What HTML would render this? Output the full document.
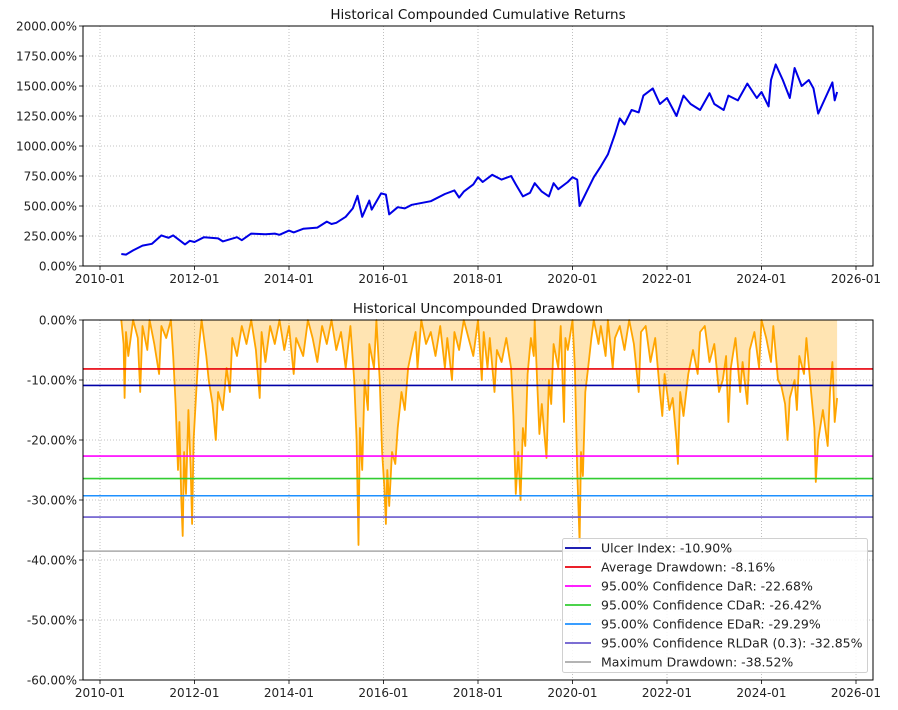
<!DOCTYPE html>
<html><head><meta charset="utf-8">
<style>
html,body{margin:0;padding:0;background:#fff;}
svg{display:block;font-family:"DejaVu Sans","Liberation Sans",sans-serif;}
</style></head>
<body>
<svg id="chart" width="898" height="710" viewBox="0 0 898 710"></svg>
<script>
// ---- data ----
const cumDates = [2010.45,2010.55,2010.7,2010.9,2011.1,2011.3,2011.45,2011.55,2011.7,2011.8,2011.9,2012.0,2012.2,2012.5,2012.6,2012.9,2013.0,2013.2,2013.5,2013.7,2013.8,2014.0,2014.1,2014.3,2014.6,2014.8,2014.9,2015.0,2015.2,2015.35,2015.45,2015.55,2015.7,2015.75,2015.95,2016.05,2016.12,2016.3,2016.45,2016.6,2017.0,2017.3,2017.5,2017.6,2017.7,2017.9,2018.0,2018.1,2018.3,2018.5,2018.7,2018.8,2018.95,2019.1,2019.2,2019.35,2019.5,2019.6,2019.7,2019.9,2020.0,2020.1,2020.15,2020.3,2020.45,2020.6,2020.75,2020.9,2021.0,2021.1,2021.25,2021.4,2021.5,2021.7,2021.85,2022.0,2022.2,2022.35,2022.5,2022.7,2022.9,2023.0,2023.2,2023.3,2023.5,2023.7,2023.9,2024.0,2024.15,2024.2,2024.3,2024.45,2024.6,2024.7,2024.85,2025.0,2025.1,2025.2,2025.35,2025.5,2025.55,2025.6];
const cumValues = [100,95,130,170,185,255,235,255,210,180,210,200,240,230,205,240,215,270,265,270,260,295,280,310,320,370,350,360,410,480,585,410,545,470,605,595,430,490,480,510,540,600,630,570,620,680,740,700,760,720,750,680,580,610,690,620,580,690,640,700,740,720,500,620,740,830,930,1100,1230,1180,1300,1280,1420,1480,1350,1400,1250,1420,1350,1300,1440,1350,1300,1420,1380,1520,1400,1450,1330,1550,1680,1550,1400,1650,1500,1550,1480,1270,1400,1530,1380,1450];
const ddDates = [2010.45,2010.5,2010.52,2010.55,2010.6,2010.7,2010.8,2010.85,2010.9,2011.0,2011.05,2011.15,2011.25,2011.3,2011.4,2011.5,2011.55,2011.6,2011.65,2011.68,2011.72,2011.75,2011.78,2011.82,2011.87,2011.92,2011.95,2011.98,2012.05,2012.1,2012.15,2012.25,2012.3,2012.38,2012.45,2012.5,2012.6,2012.68,2012.75,2012.8,2012.9,2013.0,2013.1,2013.2,2013.3,2013.38,2013.42,2013.5,2013.6,2013.7,2013.8,2013.9,2014.0,2014.1,2014.15,2014.3,2014.4,2014.5,2014.6,2014.7,2014.8,2014.9,2015.0,2015.1,2015.2,2015.3,2015.38,2015.43,2015.47,2015.5,2015.55,2015.6,2015.67,2015.7,2015.8,2015.85,2015.92,2015.97,2016.02,2016.05,2016.08,2016.12,2016.18,2016.25,2016.3,2016.38,2016.45,2016.52,2016.6,2016.68,2016.72,2016.8,2016.9,2017.0,2017.1,2017.2,2017.3,2017.35,2017.45,2017.5,2017.6,2017.7,2017.8,2017.9,2018.0,2018.08,2018.12,2018.2,2018.25,2018.35,2018.4,2018.5,2018.6,2018.7,2018.75,2018.8,2018.85,2018.9,2018.95,2019.0,2019.05,2019.12,2019.18,2019.2,2019.25,2019.3,2019.35,2019.45,2019.5,2019.55,2019.6,2019.7,2019.75,2019.82,2019.85,2019.9,2020.0,2020.05,2020.1,2020.15,2020.18,2020.22,2020.27,2020.33,2020.4,2020.45,2020.55,2020.6,2020.7,2020.75,2020.85,2020.9,2021.0,2021.1,2021.2,2021.3,2021.4,2021.45,2021.55,2021.65,2021.75,2021.85,2021.9,2021.95,2022.05,2022.12,2022.2,2022.23,2022.28,2022.35,2022.45,2022.55,2022.65,2022.7,2022.8,2022.9,2023.0,2023.1,2023.18,2023.25,2023.3,2023.35,2023.45,2023.55,2023.6,2023.7,2023.75,2023.85,2023.95,2024.0,2024.1,2024.2,2024.25,2024.35,2024.42,2024.5,2024.55,2024.6,2024.7,2024.75,2024.8,2024.9,2024.95,2025.05,2025.12,2025.15,2025.2,2025.3,2025.4,2025.45,2025.5,2025.55,2025.6];
const ddValues = [0,-4,-13,-2,-6,0,-3,-12,-1,-5,0,-4,-9,-1,-3,0,-6,-14,-25,-17,-30,-36,-22,-29,-15,-25,-34,-20,-10,-4,0,-6,-10,-14,-20,-12,-15,-8,-12,-3,-6,-1,-4,0,-5,-13,-2,-7,-1,-4,0,-5,-1,-9,-3,-6,0,-3,-7,-1,-4,0,-5,-2,-8,-1,-10,-20,-37.5,-18,-25,-10,-15,-4,-8,0,-10,-22,-28,-34,-25,-31,-22,-24,-18,-12,-15,-8,-5,-2,-8,0,-4,-2,-6,-1,-8,-3,-10,-2,-5,0,-3,-6,0,-10,-2,-8,-3,-12,-5,-7,-3,-8,-16,-29,-22,-30,-18,-21,-9,-3,-6,0,-10,-19,-14,-23,-10,-14,-4,-8,-1,-17,-3,-5,0,-8,-25,-37,-22,-26,-12,-8,-3,0,-4,-1,-6,0,-8,-3,-1,-5,0,-4,-12,-2,-1,-7,-3,-12,-16,-9,-15,-13,-20,-24,-12,-16,-9,-5,-9,-2,-1,-7,-4,-12,-10,-6,-17,-8,-3,-12,-7,-14,-5,-2,-8,0,-3,-7,-1,-10,-11,-14,-20,-13,-10,-15,-6,-9,-3,-12,-18,-27,-20,-15,-21,-12,-7,-17,-13];
const riskNames = ["Ulcer Index: -10.90%","Average Drawdown: -8.16%","95.00% Confidence DaR: -22.68%","95.00% Confidence CDaR: -26.42%","95.00% Confidence EDaR: -29.29%","95.00% Confidence RLDaR (0.3): -32.85%","Maximum Drawdown: -38.52%"];
const riskValues = [-10.90,-8.16,-22.68,-26.42,-29.29,-32.85,-38.52];
const riskColors = ["#0000a8","#e8000b","#ff00ff","#32cd32","#1e90ff","#6a5acd","#a9a9a9"];
const xTickYears = [2010,2012,2014,2016,2018,2020,2022,2024,2026];
const xTickLabels = ["2010-01","2012-01","2014-01","2016-01","2018-01","2020-01","2022-01","2024-01","2026-01"];
const topTicks = [0,250,500,750,1000,1250,1500,1750,2000];
const botTicks = [0,-10,-20,-30,-40,-50,-60];

const NS="http://www.w3.org/2000/svg";
const svg=document.getElementById('chart');
function mk(tag,attrs,parent){const e=document.createElementNS(NS,tag);for(const k in attrs)e.setAttribute(k,attrs[k]);(parent||svg).appendChild(e);return e;}
const L=83,R=873;
const xs=y=>100+(y-2010)*47.25;
const T1=26,B1=266, T2=320,B2=680;
const ys1=v=>B1-(v/2000)*(B1-T1);
const ys2=v=>T2+(-v/60)*(B2-T2);

function axes(top,bottom,ticks,ysf,fmt,title,prefix){
  const g=mk('g',{});
  
  
  xTickYears.forEach((yr,i)=>{
    const x=xs(yr);
    const gl=mk('line',{x1:x,x2:x,y1:top,y2:bottom,stroke:'#b0b0b0','stroke-width':0.8,'stroke-dasharray':'1,2'},g);
    
    mk('line',{x1:x,x2:x,y1:bottom,y2:bottom+4,stroke:'#000','stroke-width':0.8},g);
    const t=mk('text',{x:x,y:bottom+17,'text-anchor':'middle','font-size':12,fill:'#222'},g);
    t.textContent=xTickLabels[i];
    
  });
  ticks.forEach(v=>{
    const y=ysf(v);
    const gl=mk('line',{x1:L,x2:R,y1:y,y2:y,stroke:'#b0b0b0','stroke-width':0.8,'stroke-dasharray':'1,2'},g);
    
    mk('line',{x1:L-4,x2:L,y1:y,y2:y,stroke:'#000','stroke-width':0.8},g);
    const t=mk('text',{x:L-6,y:y+4.5,'text-anchor':'end','font-size':12,fill:'#222'},g);
    t.textContent=fmt(v);
    
  });
  const tt=mk('text',{x:478,y:top-7,'text-anchor':'middle','font-size':13.5,fill:'#111'},g);
  tt.textContent=title;
  
}
axes(T1,B1,topTicks,ys1,v=>v.toFixed(2)+'%','Historical Compounded Cumulative Returns','returns');
axes(T2,B2,botTicks,ys2,v=>v.toFixed(2)+'%','Historical Uncompounded Drawdown','drawdown');

// top line
let d=cumDates.map((t,i)=>(i?'L':'M')+xs(t).toFixed(1)+','+ys1(cumValues[i]).toFixed(1)).join('');
const cl=mk('path',{d:d,fill:'none',stroke:'#0000e6','stroke-width':2,'stroke-linejoin':'round'});



// drawdown fill + line
let dl=ddDates.map((t,i)=>(i?'L':'M')+xs(t).toFixed(1)+','+ys2(ddValues[i]).toFixed(1)).join('');
const last=ddDates[ddDates.length-1];
const fa=mk('path',{d:dl+'L'+xs(last).toFixed(1)+','+ys2(0)+'L'+xs(ddDates[0]).toFixed(1)+','+ys2(0)+'Z',fill:'#ffa500','fill-opacity':0.3,stroke:'none'});


const dln=mk('path',{d:dl,fill:'none',stroke:'#ffa500','stroke-width':1.8,'stroke-linejoin':'round'});



// risk lines
riskValues.forEach((v,i)=>{
  const ln=mk('line',{x1:L,x2:R,y1:ys2(v),y2:ys2(v),stroke:riskColors[i],'stroke-width':1.6});
  
  
});

// frames
[[T1,B1],[T2,B2]].forEach(([t,b])=>{
  const f=mk('rect',{x:L,y:t,width:R-L,height:b-t,fill:'none',stroke:'#000','stroke-width':1});
  
  
});

// legend
const lg=mk('g',{});


mk('rect',{x:562.5,y:538.5,width:305,height:134,rx:2,fill:'#fff','fill-opacity':0.85,stroke:'#d0d0d0'},lg);
riskNames.forEach((n,i)=>{
  const y=548+i*19;
  mk('line',{x1:565,x2:591,y1:y,y2:y,stroke:riskColors[i],'stroke-width':1.8},lg);
  const t=mk('text',{x:601,y:y+4.5,'font-size':12.5,fill:'#222'},lg);
  t.textContent=n;
  
  
});
</script>
</body></html>
